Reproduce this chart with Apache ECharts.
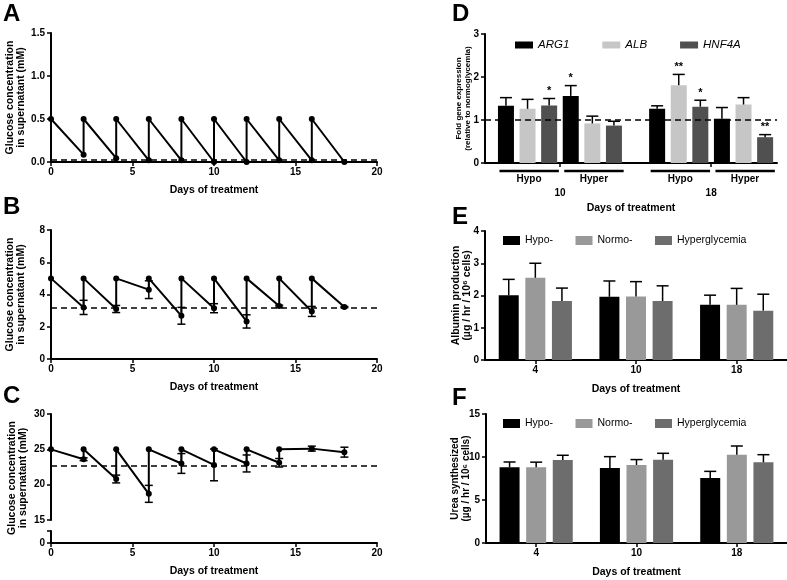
<!DOCTYPE html>
<html>
<head>
<meta charset="utf-8">
<script src="https://cdn.jsdelivr.net/npm/echarts@6/dist/echarts.min.js"></script>
<style>
  html, body { margin: 0; padding: 0; background: #fff; }
  #main { width: 787px; height: 580px; }
</style>
</head>
<body>
<div id="main"></div>
<script>
// ---- data ----
// A: hypoglycemia, glucose in supernatant (mM)
var aDays    = [0, 2, 2, 4, 4, 6, 6, 8, 8, 10, 10, 12, 12, 14, 14, 16, 16, 18];
var aGlucose = [0.5, 0.085, 0.5, 0.045, 0.5, 0.02, 0.5, 0.02, 0.5, 0.0, 0.5, 0.0, 0.5, 0.02, 0.5, 0.02, 0.5, 0.0];
var aBaseline = 0.03;

// B: normoglycemia
var bDays    = [0, 2, 2, 4, 4, 6, 6, 8, 8, 10, 10, 12, 12, 14, 14, 16, 16, 18];
var bGlucose = [5, 3.2, 5, 3.1, 5, 4.3, 5, 2.68, 5, 3.15, 5, 2.33, 5, 3.28, 5, 2.95, 5, 3.22];
var bErr     = [0, 0.44, 0, 0.22, 0, 0.55, 0, 0.52, 0, 0.28, 0, 0.41, 0, 0.06, 0, 0.31, 0, 0.04];
var bBaseline = 3.15;

// C: hyperglycemia
var cDays    = [0, 2, 2, 4, 4, 6, 6, 8, 8, 10, 10, 12, 12, 14, 14, 16, 18];
var cGlucose = [25, 23.6, 25, 20.8, 25, 18.7, 25, 23.0, 25, 22.8, 25, 23.0, 25, 23.1, 25, 25.1, 24.6];
var cErr     = [0, 0.2, 0, 0.55, 0, 1.2, 0, 1.4, 0, 2.25, 0, 1.2, 0, 0.6, 0, 0.35, 0.7];
var cBaseline = 22.7;

// D: fold gene expression, groups = Hypo10, Hyper10, Hypo18, Hyper18
var dConditions = ['Hypo', 'Hyper', 'Hypo', 'Hyper'];
var dDays = ['10', '18'];
var genes = ['ARG1', 'ALB', 'HNF4A'];
var arg1    = [1.33, 1.56, 1.26, 1.03];
var arg1Err = [0.19, 0.24, 0.07, 0.26];
var arg1Sig = ['', '*', '', ''];
var alb     = [1.26, 0.92, 1.81, 1.36];
var albErr  = [0.22, 0.17, 0.25, 0.16];
var albSig  = ['', '', '**', ''];
var hnf4a    = [1.34, 0.87, 1.31, 0.60];
var hnf4aErr = [0.16, 0.10, 0.15, 0.06];
var hnf4aSig = ['*', '', '*', '**'];

// E / F
var days = ['4', '10', '18'];
var conds = ['Hypo-', 'Normo-', 'Hyperglycemia'];
var albHypo     = [2.01, 1.96, 1.71];
var albHypoErr  = [0.49, 0.49, 0.30];
var albNormo    = [2.55, 1.97, 1.71];
var albNormoErr = [0.45, 0.46, 0.51];
var albHyper    = [1.83, 1.83, 1.53];
var albHyperErr = [0.40, 0.47, 0.51];

var ureaHypo     = [8.80, 8.72, 7.56];
var ureaHypoErr  = [0.62, 1.32, 0.77];
var ureaNormo    = [8.80, 9.07, 10.27];
var ureaNormoErr = [0.60, 0.63, 1.01];
var ureaHyper    = [9.65, 9.69, 9.38];
var ureaHyperErr = [0.55, 0.74, 0.89];

// ---- styling ----
var FONT = 'Liberation Sans, Arial, sans-serif';
var tickLbl = { color: '#000', fontFamily: FONT, fontWeight: 'bold', fontSize: 10 };
var nameTxt = { color: '#000', fontFamily: FONT, fontWeight: 'bold', fontSize: 10.5 };
var axLine = { show: true, onZero: false, lineStyle: { color: '#000', width: 2 } };
var axTick = { show: true, inside: false, length: 4, lineStyle: { color: '#000', width: 1.5 } };
var dColors = ['#000000', '#c6c6c6', '#505050'];
var eColors = ['#000000', '#999999', '#6d6d6d'];

function zip(xs, ys) { return xs.map(function (x, i) { return [x, ys[i]]; }); }

function dashed(v) {
  return {
    silent: true, symbol: ['none', 'none'], label: { show: false },
    lineStyle: { color: '#000', width: 1.5, type: [6, 4] },
    data: [{ yAxis: v }]
  };
}

// vertical +/- error bars with caps (line panels)
function pointErrors(idx, xs, ys, errs) {
  return {
    type: 'custom', xAxisIndex: idx, yAxisIndex: idx, z: 3, silent: true,
    data: xs.map(function (x, i) { return [x, ys[i], errs[i]]; }),
    renderItem: function (params, api) {
      var e = api.value(2);
      if (!e) return null;
      var t = api.coord([api.value(0), api.value(1) + e]);
      var b = api.coord([api.value(0), api.value(1) - e]);
      var st = { stroke: '#000', lineWidth: 1.5 };
      return { type: 'group', children: [
        { type: 'line', shape: { x1: t[0], y1: t[1], x2: b[0], y2: b[1] }, style: st },
        { type: 'line', shape: { x1: t[0] - 4, y1: t[1], x2: t[0] + 4, y2: t[1] }, style: st },
        { type: 'line', shape: { x1: b[0] - 4, y1: b[1], x2: b[0] + 4, y2: b[1] }, style: st }
      ] };
    }
  };
}

// upward error bars on bars; offset in px from category centre
function barErrors(idx, xs, vals, errs, offset, sig) {
  return {
    type: 'custom', xAxisIndex: idx, yAxisIndex: idx, z: 4, silent: true,
    data: xs.map(function (x, i) { return [x, vals[i], errs[i]]; }),
    renderItem: function (params, api) {
      var b = api.coord([api.value(0), api.value(1)]);
      var t = api.coord([api.value(0), api.value(1) + api.value(2)]);
      var x = b[0] + offset;
      var st = { stroke: '#000', lineWidth: 1.5 };
      var kids = [
        { type: 'line', shape: { x1: x, y1: b[1], x2: x, y2: t[1] }, style: st },
        { type: 'line', shape: { x1: x - 6, y1: t[1], x2: x + 6, y2: t[1] }, style: st }
      ];
      var s = sig ? sig[params.dataIndex] : '';
      if (s) {
        kids.push({ type: 'text', x: x, y: t[1] - 2,
          style: { text: s, textAlign: 'center', textVerticalAlign: 'bottom',
                   font: 'bold 11px ' + FONT, fill: '#000' } });
      }
      return { type: 'group', children: kids };
    }
  };
}

// D: slot position of each bar (3 genes per condition, gap between days)
function dSlot(cond, gene) { return cond * 3 + gene + (cond >= 2 ? 1 : 0); }
function dSlots(gene) { return dConditions.map(function (c, i) { return dSlot(i, gene); }); }

var leftX = function (idx) {
  return {
    gridIndex: idx, type: 'value', min: 0, max: 20, interval: 5,
    axisLine: axLine, axisTick: axTick, splitLine: { show: false },
    axisLabel: Object.assign({ margin: 5 }, tickLbl),
    name: 'Days of treatment', nameLocation: 'middle', nameGap: 23, nameTextStyle: nameTxt
  };
};

var glucoseName = 'Glucose concentration\nin supernatant (mM)';
function yName(text, gap, size) {
  return { name: text, nameLocation: 'middle', nameGap: gap, nameRotate: 90, nameMoveOverlap: false,
    nameTextStyle: Object.assign({}, nameTxt, { fontSize: size, lineHeight: size + 0.5 }) };
}

var legendText = { fontFamily: FONT, fontSize: 10.5, color: '#000' };

var option = {
  animation: false,
  backgroundColor: '#fff',
  grid: [
    { left: 51, top: 33,  width: 326, height: 129 },  // A
    { left: 51, top: 230, width: 326, height: 129 },  // B
    { left: 51, top: 414, width: 326, height: 106 },  // C upper
    { left: 51, top: 531, width: 326, height: 12 },   // C lower
    { left: 485, top: 34, width: 292, height: 129 },  // D
    { left: 485, top: 231, width: 302, height: 129 }, // E
    { left: 486, top: 414, width: 301, height: 129 }  // F
  ].map(function (g) { g.containLabel = false; g.outerBoundsMode = 'none'; return g; }),
  legend: [
    { data: genes, left: 510, top: 34, icon: 'rect', itemWidth: 18, itemHeight: 7, itemGap: 33,
      textStyle: Object.assign({}, legendText, { fontStyle: 'italic', fontSize: 11.5 }), selectedMode: false },
    { data: conds, left: 498, top: 230, icon: 'rect', itemWidth: 17, itemHeight: 9, itemGap: 22.5,
      textStyle: legendText, selectedMode: false },
    { data: conds, left: 498, top: 413, icon: 'rect', itemWidth: 17, itemHeight: 9, itemGap: 22.5,
      textStyle: legendText, selectedMode: false }
  ],
  xAxis: [
    leftX(0), leftX(1),
    { gridIndex: 2, type: 'value', min: 0, max: 20, show: false },
    leftX(3),
    { gridIndex: 4, type: 'value', min: -0.97, max: 12.55,
      axisLine: axLine, splitLine: { show: false },
      axisTick: Object.assign({ customValues: [2.5, 9.5] }, axTick),
      axisLabel: Object.assign({ customValues: [2.5, 9.5], margin: 25,
        formatter: function (v) { return v < 6 ? dDays[0] : dDays[1]; } }, tickLbl),
      name: 'Days of treatment', nameLocation: 'middle', nameGap: 40, nameTextStyle: nameTxt },
    { gridIndex: 5, type: 'category', data: days, axisLine: axLine,
      axisTick: Object.assign({ alignWithLabel: true }, axTick),
      axisLabel: Object.assign({ margin: 5 }, tickLbl),
      name: 'Days of treatment', nameLocation: 'middle', nameGap: 24, nameTextStyle: nameTxt },
    { gridIndex: 6, type: 'category', data: days, axisLine: axLine,
      axisTick: Object.assign({ alignWithLabel: true }, axTick),
      axisLabel: Object.assign({ margin: 5 }, tickLbl),
      name: 'Days of treatment', nameLocation: 'middle', nameGap: 24, nameTextStyle: nameTxt }
  ],
  yAxis: [
    Object.assign({ gridIndex: 0, type: 'value', min: 0, max: 1.5, interval: 0.5,
      axisLine: axLine, axisTick: axTick, splitLine: { show: false },
      axisLabel: Object.assign({ margin: 6, formatter: function (v) { return v.toFixed(1); } }, tickLbl)
    }, yName(glucoseName, 24, 10.5)),
    Object.assign({ gridIndex: 1, type: 'value', min: 0, max: 8, interval: 2,
      axisLine: axLine, axisTick: axTick, splitLine: { show: false },
      axisLabel: Object.assign({ margin: 6 }, tickLbl)
    }, yName(glucoseName, 24, 10.5)),
    { gridIndex: 2, type: 'value', min: 15, max: 30, interval: 5,
      axisLine: axLine, axisTick: axTick, splitLine: { show: false },
      axisLabel: Object.assign({ margin: 6 }, tickLbl) },
    { gridIndex: 3, type: 'value', min: 0, max: 2, interval: 2,
      axisLine: axLine, axisTick: axTick, splitLine: { show: false },
      axisLabel: Object.assign({ margin: 6, formatter: function (v) { return v === 0 ? '0' : ''; } }, tickLbl) },
    Object.assign({ gridIndex: 4, type: 'value', min: 0, max: 3, interval: 1,
      axisLine: axLine, axisTick: axTick, splitLine: { show: false },
      axisLabel: Object.assign({ margin: 6 }, tickLbl)
    }, yName('Fold gene expression\n(relative to normoglycemia)', 13, 8)),
    Object.assign({ gridIndex: 5, type: 'value', min: 0, max: 4, interval: 1,
      axisLine: axLine, axisTick: axTick, splitLine: { show: false },
      axisLabel: Object.assign({ margin: 6 }, tickLbl)
    }, yName('Albumin production\n(\u00b5g / hr / 10\u2076 cells)', 12, 10.5)),
    Object.assign({ gridIndex: 6, type: 'value', min: 0, max: 15, interval: 5,
      axisLine: axLine, axisTick: axTick, splitLine: { show: false },
      axisLabel: Object.assign({ margin: 6 }, tickLbl)
    }, yName('Urea synthesized\n(\u00b5g / hr / 10\u2076 cells)', 15, 10))
  ],
  graphic: [
    { type: 'text', left: 3, top: 2, style: { text: 'A', font: 'bold 24px ' + FONT, fill: '#000' } },
    { type: 'text', left: 3, top: 195, style: { text: 'B', font: 'bold 24px ' + FONT, fill: '#000' } },
    { type: 'text', left: 3, top: 384, style: { text: 'C', font: 'bold 24px ' + FONT, fill: '#000' } },
    { type: 'text', left: 452, top: 2, style: { text: 'D', font: 'bold 24px ' + FONT, fill: '#000' } },
    { type: 'text', left: 452, top: 205, style: { text: 'E', font: 'bold 24px ' + FONT, fill: '#000' } },
    { type: 'text', left: 452, top: 386, style: { text: 'F', font: 'bold 24px ' + FONT, fill: '#000' } },
    { type: 'text', x: 18, y: 478, rotation: Math.PI / 2,
      style: { text: glucoseName, font: 'bold 10.5px ' + FONT, fill: '#000', lineHeight: 11,
               textAlign: 'center', textVerticalAlign: 'middle' } }
  ],
  series: []
};

var lineStyle = { color: '#000', width: 2 };
function glucoseLine(idx, xs, ys, base) {
  return { type: 'line', xAxisIndex: idx, yAxisIndex: idx, data: zip(xs, ys), z: 5,
    symbol: 'circle', symbolSize: 6, itemStyle: { color: '#000' }, lineStyle: lineStyle,
    markLine: dashed(base) };
}
option.series.push(glucoseLine(0, aDays, aGlucose, aBaseline));
option.series.push(glucoseLine(1, bDays, bGlucose, bBaseline));
option.series.push(pointErrors(1, bDays, bGlucose, bErr));
option.series.push(glucoseLine(2, cDays, cGlucose, cBaseline));
option.series.push(pointErrors(2, cDays, cGlucose, cErr));

// D bars
var dVals = [arg1, alb, hnf4a], dErrs = [arg1Err, albErr, hnf4aErr], dSigs = [arg1Sig, albSig, hnf4aSig];
genes.forEach(function (g, k) {
  var s = { type: 'bar', name: g, xAxisIndex: 4, yAxisIndex: 4, barWidth: 16, barGap: '-100%',
    itemStyle: { color: dColors[k] }, data: zip(dSlots(k), dVals[k]) };
  if (k === 0) s.markLine = dashed(1);
  option.series.push(s);
  option.series.push(barErrors(4, dSlots(k), dVals[k], dErrs[k], 0, dSigs[k]));
});
// D condition brackets + labels under the axis
option.series.push({
  type: 'custom', xAxisIndex: 4, yAxisIndex: 4, silent: true,
  data: dConditions.map(function (c, i) { return [dSlot(i, 0), dSlot(i, 2)]; }),
  renderItem: function (params, api) {
    var p1 = api.coord([api.value(0) - 0.3, 0]);
    var p2 = api.coord([api.value(1) + 0.45, 0]);
    var pc = api.coord([(api.value(0) + api.value(1)) / 2 + 0.07, 0]);
    var y = p1[1] + 8;
    return { type: 'group', children: [
      { type: 'line', shape: { x1: p1[0], y1: y, x2: p2[0], y2: y }, style: { stroke: '#000', lineWidth: 2.5 } },
      { type: 'text', x: pc[0], y: y + 3, style: { text: dConditions[params.dataIndex], textAlign: 'center',
        textVerticalAlign: 'top', font: 'bold 10px ' + FONT, fill: '#000' } }
    ] };
  }
});

// E and F bars
var offs = [-26.6, 0, 26.6];
function addGroup(idx, vals, errs) {
  conds.forEach(function (c, k) {
    option.series.push({ type: 'bar', name: c, xAxisIndex: idx, yAxisIndex: idx, barWidth: 20, barGap: '33%',
      itemStyle: { color: eColors[k] }, data: vals[k] });
    option.series.push(barErrors(idx, [0, 1, 2], vals[k], errs[k], offs[k], null));
  });
}
addGroup(5, [albHypo, albNormo, albHyper], [albHypoErr, albNormoErr, albHyperErr]);
addGroup(6, [ureaHypo, ureaNormo, ureaHyper], [ureaHypoErr, ureaNormoErr, ureaHyperErr]);

var chart = echarts.init(document.getElementById('main'));
chart.setOption(option);
</script>
</body>
</html>
